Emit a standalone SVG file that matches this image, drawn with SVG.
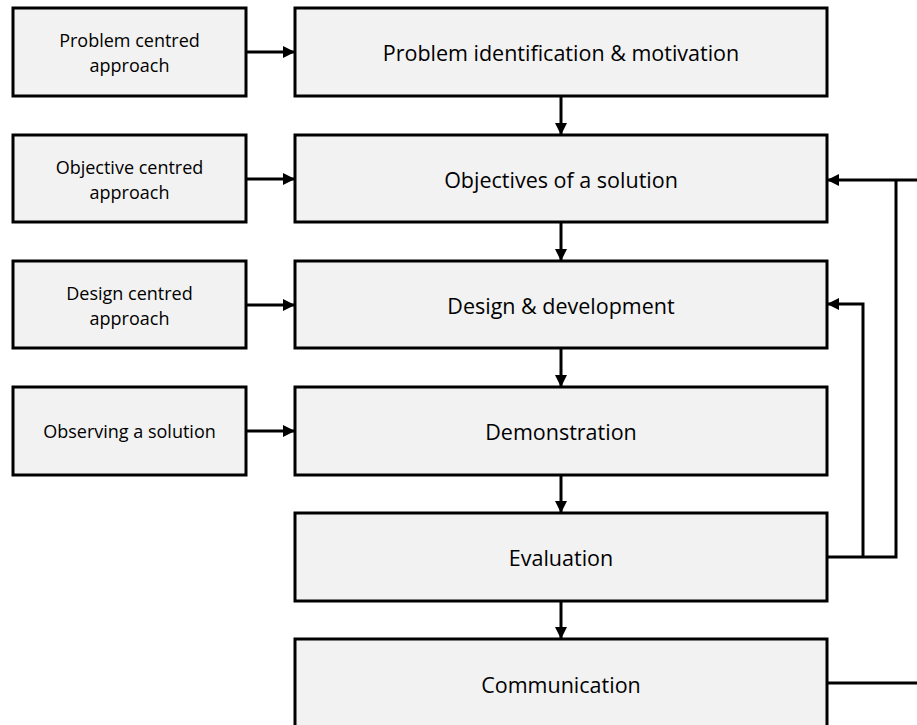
<svg xmlns="http://www.w3.org/2000/svg" width="917" height="725" viewBox="0 0 917 725">
  <style>
    .box { fill: #f2f2f2; stroke: #000; stroke-width: 3; }
    .main { font-family: "Open Sans", "Liberation Sans", Arial, sans-serif; font-size: 21.5px; fill: #000; text-anchor: middle; dominant-baseline: central; }
    .side { font-family: "Open Sans", "Liberation Sans", Arial, sans-serif; font-size: 18px; fill: #000; text-anchor: middle; dominant-baseline: central; }
    .wire { fill: none; stroke: #000; stroke-width: 3; }
  </style>
  <defs>
    <marker id="arrow" viewBox="0 0 12 12" refX="12" refY="6" markerWidth="12" markerHeight="12" markerUnits="userSpaceOnUse" orient="auto">
      <path d="M0,0 L12,6 L0,12 Z" fill="#000"/>
    </marker>
  </defs>
  <rect width="917" height="725" fill="#fff"/>

  <!-- approach boxes on the left -->
  <g id="problem-centred">
    <rect class="box" x="13" y="8" width="233" height="88"/>
    <text class="side" x="129.5" y="40">Problem centred</text>
    <text class="side" x="129.5" y="65">approach</text>
  </g>
  <g id="objective-centred">
    <rect class="box" x="13" y="135" width="233" height="87"/>
    <text class="side" x="129.5" y="167">Objective centred</text>
    <text class="side" x="129.5" y="192">approach</text>
  </g>
  <g id="design-centred">
    <rect class="box" x="13" y="261" width="233" height="87"/>
    <text class="side" x="129.5" y="293">Design centred</text>
    <text class="side" x="129.5" y="318">approach</text>
  </g>
  <g id="observing">
    <rect class="box" x="13" y="387" width="233" height="88"/>
    <text class="side" x="129.5" y="431">Observing a solution</text>
  </g>

  <!-- process steps -->
  <g id="problem-identification">
    <rect class="box" x="295" y="8" width="532" height="88"/>
    <text class="main" x="561" y="52">Problem identification &amp; motivation</text>
  </g>
  <g id="objectives">
    <rect class="box" x="295" y="135" width="532" height="87"/>
    <text class="main" x="561" y="179">Objectives of a solution</text>
  </g>
  <g id="design-development">
    <rect class="box" x="295" y="261" width="532" height="87"/>
    <text class="main" x="561" y="305">Design &amp; development</text>
  </g>
  <g id="demonstration">
    <rect class="box" x="295" y="387" width="532" height="88"/>
    <text class="main" x="561" y="431">Demonstration</text>
  </g>
  <g id="evaluation">
    <rect class="box" x="295" y="513" width="532" height="88"/>
    <text class="main" x="561" y="557">Evaluation</text>
  </g>
  <g id="communication">
    <rect class="box" x="295" y="639" width="532" height="100"/>
    <text class="main" x="561" y="684">Communication</text>
  </g>

  <!-- connectors -->
  <g id="connectors">
    <line class="wire" x1="246" y1="52" x2="295" y2="52" marker-end="url(#arrow)"/>
    <line class="wire" x1="246" y1="179" x2="295" y2="179" marker-end="url(#arrow)"/>
    <line class="wire" x1="246" y1="305" x2="295" y2="305" marker-end="url(#arrow)"/>
    <line class="wire" x1="246" y1="431" x2="295" y2="431" marker-end="url(#arrow)"/>

    <line class="wire" x1="561" y1="96" x2="561" y2="135" marker-end="url(#arrow)"/>
    <line class="wire" x1="561" y1="222" x2="561" y2="261" marker-end="url(#arrow)"/>
    <line class="wire" x1="561" y1="348" x2="561" y2="387" marker-end="url(#arrow)"/>
    <line class="wire" x1="561" y1="475" x2="561" y2="513" marker-end="url(#arrow)"/>
    <line class="wire" x1="561" y1="601" x2="561" y2="639" marker-end="url(#arrow)"/>

    <!-- feedback loops from evaluation -->
    <polyline class="wire" points="827,557 896,557 896,180"/>
    <line class="wire" x1="917" y1="180" x2="827" y2="180" marker-end="url(#arrow)"/>
    <polyline class="wire" points="863,557 863,304 827,304" marker-end="url(#arrow)"/>

    <!-- communication outflow -->
    <line class="wire" x1="827" y1="683" x2="917" y2="683"/>
  </g>
</svg>
